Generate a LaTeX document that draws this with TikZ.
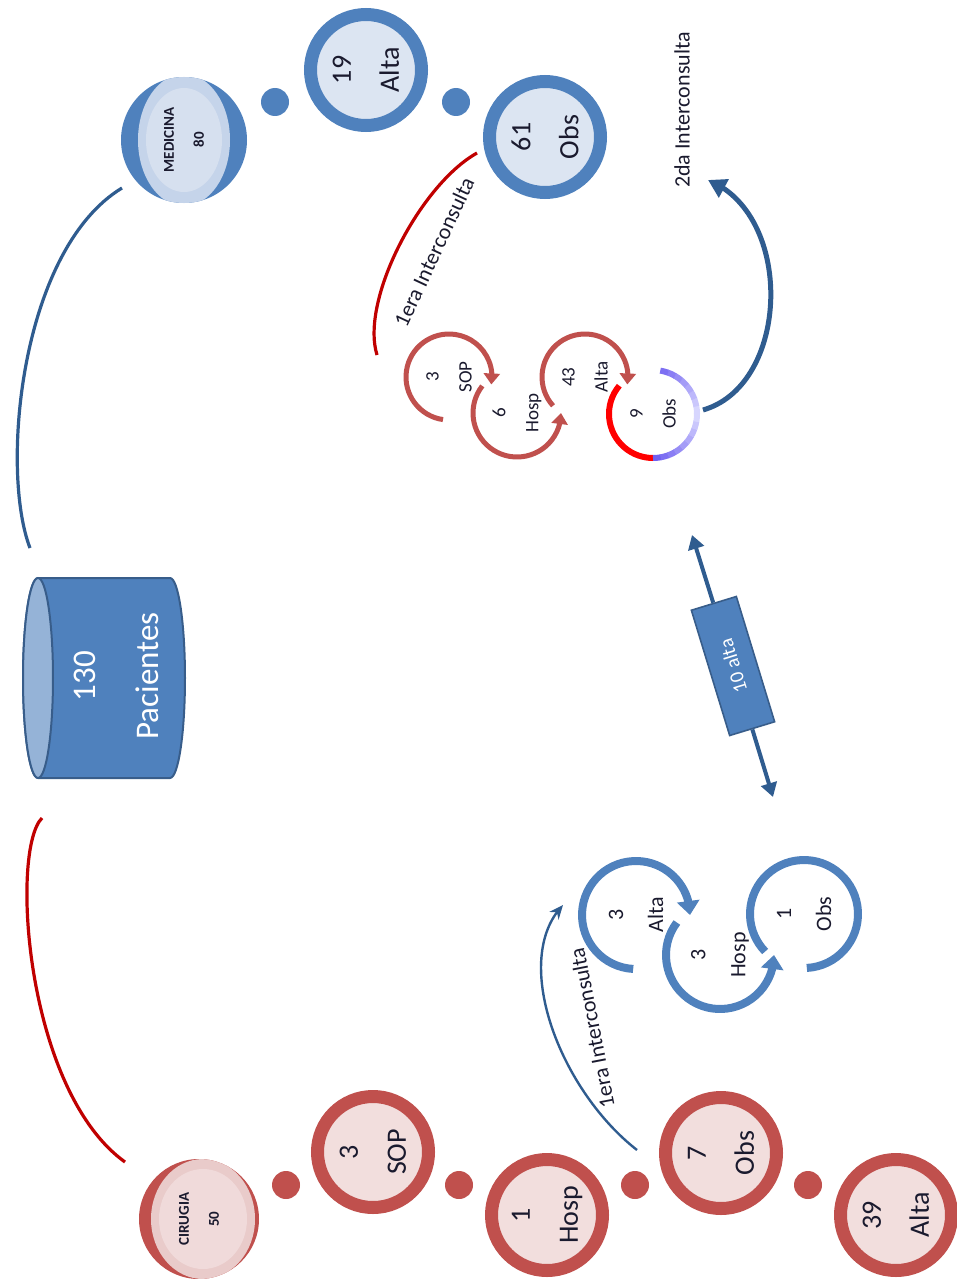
\documentclass[tikz,border=0pt]{standalone}
\usepackage{fontspec}
\setmainfont{Carlito}
\usetikzlibrary{arrows.meta,bending,calc}
\definecolor{bdark}{HTML}{4F81BD}
\definecolor{bline}{HTML}{385D8A}
\definecolor{blight}{HTML}{DCE5F2}
\definecolor{bcap}{HTML}{95B3D7}
\definecolor{rdark}{HTML}{C0504D}
\definecolor{rlight}{HTML}{F2DEDD}
\definecolor{conblue}{HTML}{2F5C8F}
\definecolor{conred}{HTML}{C00000}
\definecolor{orbblue}{HTML}{C5D4EA}
\definecolor{orbbluec}{HTML}{D6E0EF}
\definecolor{orbred}{HTML}{E9CBCA}
\definecolor{orbredc}{HTML}{F0DADA}
\definecolor{vio}{HTML}{7060F0}
\definecolor{pale}{HTML}{DCDCFF}
\definecolor{txt}{HTML}{1A1A2E}
\begin{document}
\begin{tikzpicture}[x=0.5pt,y=-0.5pt,
  bring/.style={circle, draw=bdark, fill=blight, line width=6.5pt, minimum size=55.5pt, inner sep=0pt,
    align=center, rotate=90, text=txt, font=\fontsize{14}{24}\selectfont},
  rring/.style={bring, draw=rdark, fill=rlight},
  bdot/.style={circle, fill=bdark, minimum size=14pt, inner sep=0pt},
  rdot/.style={bdot, fill=rdark},
  borb/.style={circle, fill=bdark, minimum size=63pt, inner sep=0pt,
    path picture={\fill[orbblue] (path picture bounding box.center) ellipse [x radius=23pt, y radius=33pt];
      \fill[orbbluec] (path picture bounding box.center) ellipse [x radius=19pt, y radius=26pt];}},
  rorb/.style={circle, fill=rdark, minimum size=60pt, inner sep=0pt,
    path picture={\fill[orbred] ([xshift=2pt]path picture bounding box.center) ellipse [x radius=26pt, y radius=30pt];
      \fill[orbredc] ([xshift=2pt]path picture bounding box.center) ellipse [x radius=22pt, y radius=25pt];}},
  orbtext/.style={align=center, rotate=90, inner sep=0pt, text=txt, font=\bfseries\fontsize{7.5}{15}\selectfont},
  cyctext/.style={align=center, rotate=90, inner sep=0pt, text=txt, font=\fontsize{9.5}{16.5}\selectfont},
  bcyctext/.style={align=center, rotate=90, inner sep=0pt, text=txt, font=\fontsize{11}{20}\selectfont},
  rarc/.style={draw=rdark, line width=2.5pt, -{Triangle[width=8pt,length=5.5pt]}},
  barc/.style={draw=bdark, line width=4pt, -{Triangle[width=11pt,length=7pt]}},
  bigcurve/.style={line width=1.6pt},
  lbl/.style={inner sep=0pt, text=txt, font=\fontsize{11}{13}\selectfont},
  altabox/.style={rectangle, rotate=107, minimum width=65.5pt, minimum height=23.5pt, inner sep=0pt,
    fill=bdark, draw=bline, line width=0.8pt, text=white, font=\fontsize{10}{12}\selectfont},
  dbl/.style={draw=conblue, line width=2pt, -{Triangle[width=8pt,length=7pt]}},
]
\useasboundingbox (0,0) rectangle (957,1279);

% cylinder
\path[fill=bdark, draw=bline, line width=1pt] (38,578) -- (170,578)
  arc[start angle=-90, end angle=90, x radius=15, y radius=100] -- (38,778)
  arc[start angle=90, end angle=270, x radius=15, y radius=100] -- cycle;
\path[fill=bcap, draw=bline, line width=1pt] (38,678) ellipse [x radius=15, y radius=100];
\node[text=white, align=center, rotate=90, inner sep=0pt, font=\fontsize{16.5}{31.5}\selectfont] (pac) at (116,676) {130\\Pacientes};

% medicina branch
\node[borb] (med) at (184,140) {};
\node[orbtext] (medt) at (med.center) {MEDICINA\\80};
\node[bdot] (bd1) at (275,102) {};
\node[bring] (alta19) at (366,70) {19\\Alta};
\node[bdot] (bd2) at (456,102) {};
\node[bring] (obs61) at (545,137) {61\\Obs};

% cirugia branch
\node[rorb] (cir) at (199,1219) {};
\node[orbtext] (cirt) at (cir.center) {CIRUGIA\\50};
\node[rdot] (rd1) at (286,1185) {};
\node[rring] (sop3b) at (373,1152) {3\\SOP};
\node[rdot] (rd2) at (459,1185) {};
\node[rring] (hosp1) at (547,1215) {1\\Hosp};
\node[rdot] (rd3) at (635,1185) {};
\node[rring] (obs7) at (721,1153) {7\\Obs};
\node[rdot] (rd4) at (808,1185) {};
\node[rring] (alta39) at (896,1215) {39\\Alta};

% big connectors
\coordinate (bcs) at (30,548);
\coordinate (bce) at (122,188);
\draw[bigcurve, conblue] (bcs) .. controls (0,470) and (20,250) .. (bce);
\coordinate (rcs) at (42,818);
\coordinate (rce) at (125,1162);
\draw[bigcurve, conred] (rcs) .. controls (10,850) and (25,1090) .. (rce);

% red cycle (medicina interconsulta)
\node[cyctext] (sop3) at (449,377) {3\\SOP};
\draw[rarc] (sop3.center) ++(98:43) arc[start angle=98, end angle=370, radius=43];
\node[cyctext] (hosp6) at (517,413) {6\\Hosp};
\draw[rarc] (hosp6.center) ++(218:44) arc[start angle=218, end angle=0, radius=44];
\node[cyctext] (alta43) at (585,377) {43\\Alta};
\draw[rarc] (alta43.center) ++(138:43) arc[start angle=138, end angle=370, radius=43];
\node[cyctext] (obs9) at (653,414) {9\\Obs};
\draw[draw=red, line width=3pt] (obs9.center) ++(220:44) arc[start angle=220, end angle=90, radius=44];
\foreach \a [evaluate=\a as \p using {int(min(100,abs(\a-5)*100/85))}] in {90,80,...,-70}{
  \draw[draw=vio!\p!pale, line width=3pt] (obs9.center) ++(\a:44) arc[start angle=\a, end angle=\a-10.5, radius=44];
}

% blue cycle (cirugia interconsulta)
\node[bcyctext] (alta3) at (636,915) {3\\Alta};
\draw[barc] (alta3.center) ++(93:54) arc[start angle=93, end angle=360, radius=54];
\node[bcyctext] (hosp3) at (720,955) {3\\Hosp};
\draw[barc] (hosp3.center) ++(217:54) arc[start angle=217, end angle=0, radius=54];
\node[bcyctext] (obs1) at (804,914) {1\\Obs};
\draw[draw=bdark, line width=4pt] (obs1.center) ++(87:54) arc[start angle=87, end angle=-224, radius=54];

% interconsulta connectors
\coordinate (i1s) at (477,153);
\coordinate (i1e) at (377,355);
\draw[bigcurve, conred] (i1s) .. controls (420,185) and (360,300) .. (i1e);
\node[lbl, rotate=65] (lab1) at (434,252) {1era Interconsulta};

\coordinate (i2s) at (637,1150);
\coordinate (i2e) at (563,905);
\draw[line width=1.2pt, conblue, -{Stealth[length=7pt,width=6pt]}] (i2s) .. controls (560,1090) and (510,960) .. (i2e);
\node[lbl, rotate=101] (lab2) at (592,1028) {1era Interconsulta};

\coordinate (d2s) at (703,410);
\coordinate (d2e) at (708,180);
\draw[line width=2.5pt, conblue, -{Triangle[width=10pt,length=9pt]}] (d2s) .. controls (790,385) and (795,215) .. (d2e);
\node[lbl, rotate=90] (lab3) at (682,110) {2da Interconsulta};

% 10 alta
\node[altabox] (alta10) at (733,666) {10 alta};
\coordinate (atop) at (692,535);
\coordinate (abot) at (773,797);
\draw[dbl] (alta10) -- (atop);
\draw[dbl] (alta10) -- (abot);
\end{tikzpicture}
\end{document}
